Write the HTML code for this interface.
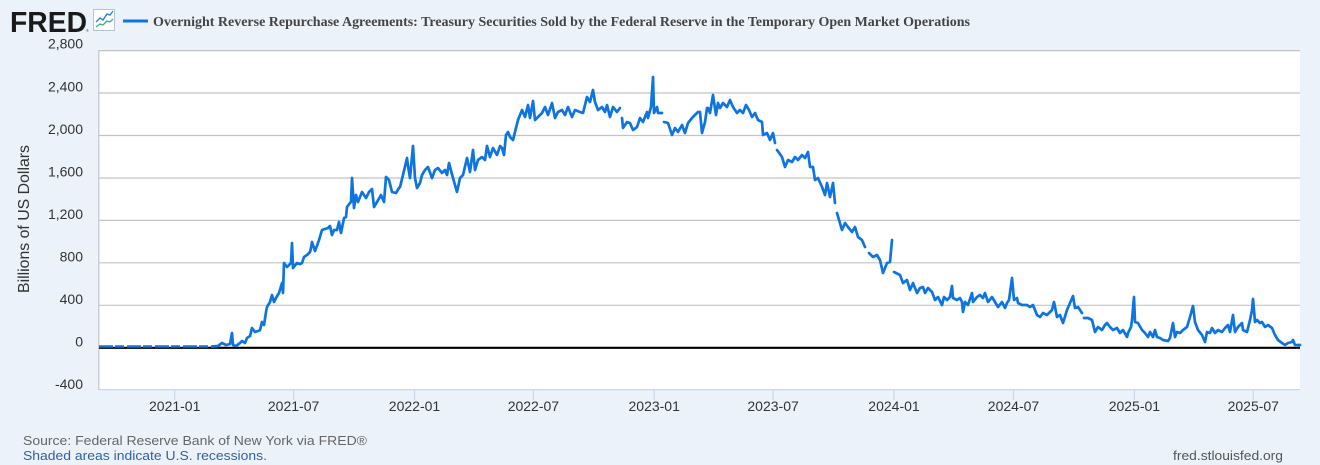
<!DOCTYPE html>
<html>
<head>
<meta charset="utf-8">
<style>
html,body{margin:0;padding:0;background:#ebf2fa;}
svg{display:block;}
</style>
</head>
<body>
<svg width="1320" height="465" viewBox="0 0 1320 465" xmlns="http://www.w3.org/2000/svg">
<rect x="0" y="0" width="1320" height="465" fill="#ebf2fa"/>
<!-- header -->
<text x="10" y="32" font-family="Liberation Sans, sans-serif" font-weight="bold" font-size="28.5" fill="#1a1a1a" textLength="77" lengthAdjust="spacingAndGlyphs">FRED</text>
<text x="86" y="32" font-family="Liberation Sans, sans-serif" font-size="4" fill="#555">®</text>
<rect x="93.5" y="9.5" width="21" height="21" fill="#ffffff" stroke="#b8c2cc" stroke-width="1"/>
<polyline points="96,22 100,18 103,20 107,14 110,15 113,11" fill="none" stroke="#2f7fd8" stroke-width="1.4"/>
<polyline points="96,27 100,24 103,25 107,21 110,22 113,19" fill="none" stroke="#3cb08a" stroke-width="1.4"/>
<line x1="123" y1="21" x2="148" y2="21" stroke="#0d74e0" stroke-width="3"/>
<text x="153" y="26" font-family="Liberation Serif, serif" font-weight="bold" font-size="13.5" fill="#444" textLength="817" lengthAdjust="spacingAndGlyphs">Overnight Reverse Repurchase Agreements: Treasury Securities Sold by the Federal Reserve in the Temporary Open Market Operations</text>

<!-- plot area -->
<rect x="99" y="50.5" width="1201" height="339.5" fill="#ffffff"/>
<g stroke="#c4c4c4" stroke-width="1.2">
<line x1="99" y1="50.6" x2="1300" y2="50.6"/>
<line x1="99" y1="93" x2="1300" y2="93"/>
<line x1="99" y1="135.5" x2="1300" y2="135.5"/>
<line x1="99" y1="178" x2="1300" y2="178"/>
<line x1="99" y1="220.4" x2="1300" y2="220.4"/>
<line x1="99" y1="262.8" x2="1300" y2="262.8"/>
<line x1="99" y1="305.3" x2="1300" y2="305.3"/>
<line x1="98.8" y1="50" x2="98.8" y2="390"/>
</g>
<line x1="99" y1="389.6" x2="1300" y2="389.6" stroke="#ccd6eb" stroke-width="1.2"/>
<g stroke="#ccd6eb" stroke-width="1.2">
<line x1="174.7" y1="390" x2="174.7" y2="400"/>
<line x1="293.6" y1="390" x2="293.6" y2="400"/>
<line x1="414.5" y1="390" x2="414.5" y2="400"/>
<line x1="533.4" y1="390" x2="533.4" y2="400"/>
<line x1="654.2" y1="390" x2="654.2" y2="400"/>
<line x1="773.1" y1="390" x2="773.1" y2="400"/>
<line x1="894" y1="390" x2="894" y2="400"/>
<line x1="1013.5" y1="390" x2="1013.5" y2="400"/>
<line x1="1134.4" y1="390" x2="1134.4" y2="400"/>
<line x1="1253.3" y1="390" x2="1253.3" y2="400"/>
</g>
<line x1="99" y1="347.8" x2="1300" y2="347.8" stroke="#000" stroke-width="2.2"/>

<!-- series -->
<line x1="99" y1="346.5" x2="212" y2="346.5" stroke="#0d74e0" stroke-width="2.4" stroke-dasharray="14 2 9 3"/>
<path fill="none" stroke="#0d74e0" stroke-width="2.7" stroke-linejoin="round" stroke-linecap="round" d="
M 212 346.5 L 218 346 L 222 343 L 226 345 L 230 344 L 232 333 L 233 345 L 236 346 L 240 343 L 242 341 L 245 343 L 247 338 L 250 336 L 252 328 L 255 332 L 258 331 L 260 330 L 262 322 L 264 325 L 266 312 L 267 307 L 270 302 L 272 295 L 274 302 L 276 298 L 279 293 L 282 283 L 283 293 L 284 263 L 287 267 L 290 264 L 291 263 L 292 243 L 293 268 L 297 263 L 300 264 L 302 263 L 304 257 L 307 255 L 310 252 L 311 248 L 312 242 L 315 251 L 318 243 L 319 240 L 322 230 L 325 229 L 328 228 L 330 226 L 332 235 L 334 230 L 337 230 L 339 222 L 341 233 L 344 218 L 346 217 L 347 207 L 350 203 L 351 202 L 352 178 L 354 208 L 356 195 L 358 202 L 362 192 L 366 198 L 369 192 L 372 189 L 374 207 L 377 202 L 381 195 L 384 202 L 386 177 L 389 180 L 392 192 L 396 193 L 399 188 L 400 187 L 403 175 L 407 158 L 408 166 L 410 178 L 413 146 L 415 178 L 417 188 L 420 183 L 422 175 L 425 170 L 428 167 L 432 178 L 435 170 L 438 168 L 442 173 L 445 170 L 447 175 L 449 163 L 453 178 L 457 192 L 460 178 L 463 175 L 467 158 L 470 172 L 473 150 L 475 170 L 478 160 L 482 157 L 485 160 L 487 146 L 490 157 L 493 148 L 497 155 L 500 146 L 502 148 L 504 155 L 506 135 L 508 132 L 510 137 L 513 140 L 515 132 L 518 120 L 522 110 L 525 117 L 528 105 L 530 118 L 533 101 L 535 120 L 538 117 L 542 113 L 545 107 L 548 115 L 552 103 L 555 118 L 558 112 L 562 110 L 565 115 L 568 107 L 572 117 L 575 110 L 580 112 L 583 113 L 587 97 L 590 102 L 593 90 L 595 102 L 598 110 L 602 107 L 605 112 L 607 105 L 610 117 L 613 107 L 617 112 L 620 108
M 622 118 L 623 128 L 627 122 L 630 123 L 633 130 L 637 127 L 640 118 L 643 122 L 647 112 L 648 118 L 651 107 L 653 77 L 654 113 L 657 107 L 658 113 L 662 113
M 664 122 L 668 123 L 672 135 L 675 128 L 678 132 L 682 125 L 685 133 L 688 123 L 692 118 L 695 115 L 698 112 L 700 112 L 702 133 L 705 122 L 707 108 L 708 108 L 710 113 L 713 95 L 716 115 L 718 103 L 720 108 L 723 103 L 727 107 L 730 100 L 733 107 L 737 113 L 740 110 L 743 113 L 746 105 L 749 110 L 752 117 L 755 113 L 758 120 L 762 122 L 763 135 L 767 133 L 770 140 L 773 133 L 775 143
M 777 150 L 782 157 L 785 167 L 788 160 L 792 162 L 795 157 L 798 160 L 802 155 L 805 158 L 808 152 L 810 167 L 813 167 L 815 180 L 818 178 L 822 187 L 825 195 L 827 183 L 830 197 L 833 183 L 835 203
M 837 213 L 842 230 L 845 223 L 848 227 L 852 232 L 855 227 L 858 237 L 862 240 L 865 247
M 869 253 L 873 257 L 877 255 L 880 260 L 883 273 L 887 263 L 890 262 L 892 240
M 894 272 L 900 275 L 903 283 L 907 280 L 910 290 L 913 283 L 917 293 L 920 288 L 923 287 L 925 293 L 928 288 L 932 292 L 935 300 L 938 297 L 942 305 L 944 297 L 947 300 L 950 297 L 952 286 L 953 298 L 957 300 L 960 298 L 962 302 L 963 312 L 965 302 L 968 305 L 972 293 L 973 302 L 977 297 L 980 295 L 983 298 L 985 293 L 988 302 L 992 297 L 995 302 L 998 307 L 1002 302 L 1005 308 L 1007 303 L 1009 300 L 1012 278 L 1014 300 L 1017 298 L 1018 303 L 1022 305 L 1027 305 L 1030 307 L 1033 305 L 1037 315 L 1040 317 L 1043 313 L 1047 315 L 1050 312 L 1052 310 L 1054 302 L 1056 312 L 1057 317 L 1060 315 L 1063 323 L 1067 310 L 1070 303 L 1073 296 L 1075 308 L 1078 307 L 1082 313
M 1084 318 L 1088 318 L 1092 320 L 1095 332 L 1098 327 L 1102 330 L 1105 325 L 1107 323 L 1110 327 L 1113 330 L 1117 328 L 1120 333 L 1123 330 L 1127 337 L 1128 333 L 1131 327 L 1132 320 L 1134 297 L 1135 322 L 1138 323 L 1142 330 L 1145 333 L 1148 337 L 1150 332 L 1153 337 L 1155 330 L 1157 337 L 1160 338 L 1163 340 L 1168 341 L 1170 338 L 1173 323 L 1175 337 L 1177 332 L 1180 333 L 1183 330 L 1187 327 L 1190 317 L 1193 306 L 1195 322 L 1198 330 L 1202 335 L 1205 342 L 1207 332 L 1210 333 L 1212 328 L 1215 333 L 1218 330 L 1222 332 L 1225 328 L 1228 325 L 1230 332 L 1233 315 L 1235 332 L 1238 327 L 1242 323 L 1243 330 L 1247 332 L 1250 320 L 1252 310 L 1253 299 L 1255 322 L 1257 320 L 1260 323 L 1262 322 L 1265 327 L 1268 325 L 1272 328 L 1275 335 L 1278 340 L 1282 343 L 1285 345 L 1288 343 L 1292 342 L 1293 340 L 1295 345
M 1297 345 L 1300 345"/>

<!-- y labels -->
<g font-family="Liberation Sans, sans-serif" font-size="14" fill="#333" text-anchor="end">
<text x="83" y="48.5">2,800</text>
<text x="83" y="91.7">2,400</text>
<text x="83" y="134">2,000</text>
<text x="83" y="176.5">1,600</text>
<text x="83" y="219">1,200</text>
<text x="83" y="261.5">800</text>
<text x="83" y="304">400</text>
<text x="83" y="346.5">0</text>
<text x="83" y="389">-400</text>
</g>
<text transform="translate(29,219) rotate(-90)" font-family="Liberation Sans, sans-serif" font-size="15.8" fill="#333" text-anchor="middle" textLength="148" lengthAdjust="spacingAndGlyphs">Billions of US Dollars</text>

<!-- x labels -->
<g font-family="Liberation Sans, sans-serif" font-size="14" fill="#333" text-anchor="middle">
<text x="174.7" y="411">2021-01</text>
<text x="293.6" y="411">2021-07</text>
<text x="414.5" y="411">2022-01</text>
<text x="533.4" y="411">2022-07</text>
<text x="654.2" y="411">2023-01</text>
<text x="773.1" y="411">2023-07</text>
<text x="894" y="411">2024-01</text>
<text x="1013.5" y="411">2024-07</text>
<text x="1134.4" y="411">2025-01</text>
<text x="1253.3" y="411">2025-07</text>
</g>

<!-- footer -->
<text x="23" y="445" font-family="Liberation Sans, sans-serif" font-size="13" fill="#666" textLength="344" lengthAdjust="spacingAndGlyphs">Source: Federal Reserve Bank of New York via FRED®</text>
<text x="23" y="460" font-family="Liberation Sans, sans-serif" font-size="13" fill="#34609f" textLength="244" lengthAdjust="spacingAndGlyphs">Shaded areas indicate U.S. recessions.</text>
<text x="1283" y="460" font-family="Liberation Sans, sans-serif" font-size="13" fill="#555" text-anchor="end" textLength="110" lengthAdjust="spacingAndGlyphs">fred.stlouisfed.org</text>
</svg>
</body>
</html>
